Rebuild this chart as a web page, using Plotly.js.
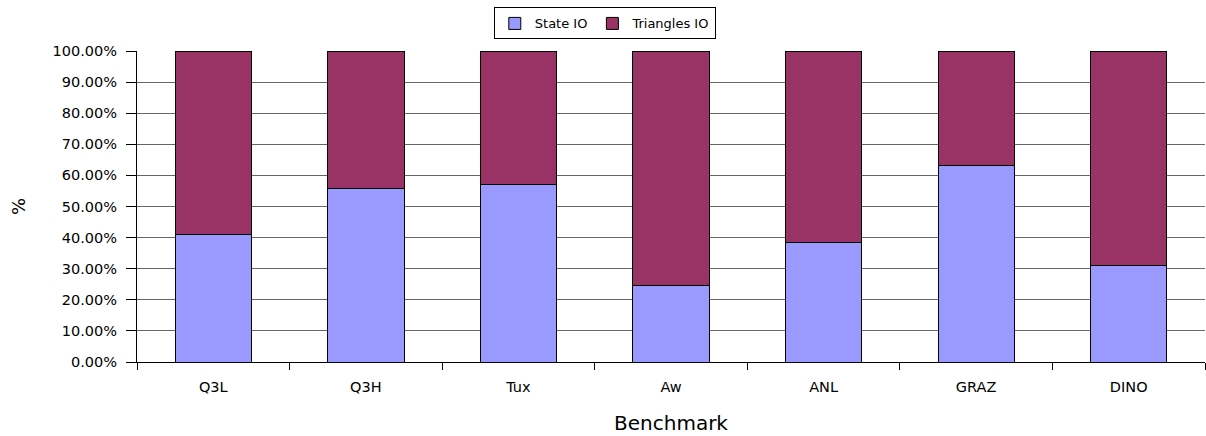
<!DOCTYPE html>
<html>
<head>
<meta charset="utf-8">
<script src="https://cdn.plot.ly/plotly-3.0.1.min.js"></script>
<style>html,body{margin:0;padding:0;background:#fff;}#chart{width:1206px;height:436px;}</style>
</head>
<body>
<div id="chart"></div>
<script>
const categories = ["Q3L", "Q3H", "Tux", "Aw", "ANL", "GRAZ", "DINO"];
const stateIO = [0.410, 0.559, 0.571, 0.245, 0.385, 0.633, 0.310];
const trianglesIO = stateIO.map(v => 1 - v);
const yTickVals = [0, 0.1, 0.2, 0.3, 0.4, 0.5, 0.6, 0.7, 0.8, 0.9, 1.0];
const yTickText = ["0.00%", "10.00%", "20.00%", "30.00%", "40.00%", "50.00%", "60.00%", "70.00%", "80.00%", "90.00%", "100.00%"];

const font = "DejaVu Sans, Verdana, sans-serif";
const traces = [
  {type: "bar", name: "State IO", x: categories, y: stateIO,
   marker: {color: "#9999ff", line: {color: "#000", width: 1}}, width: 0.5},
  {type: "bar", name: "Triangles IO", x: categories, y: trianglesIO,
   marker: {color: "#993366", line: {color: "#000", width: 1}}, width: 0.5}
];
const layout = {
  width: 1206, height: 436,
  margin: {l: 137, r: 1, t: 51, b: 74},
  barmode: "stack",
  paper_bgcolor: "#fff", plot_bgcolor: "#fff",
  font: {family: font, size: 14, color: "#000"},
  showlegend: true,
  legend: {orientation: "h", x: 0.438, xanchor: "center", y: 1.14, yanchor: "top",
           bordercolor: "#000", borderwidth: 1, font: {size: 13, family: font},
           traceorder: "normal"},
  xaxis: {type: "category", tickson: "boundaries", ticks: "outside", ticklen: 7,
          tickcolor: "#000", showline: true, linecolor: "#000", linewidth: 1,
          showgrid: false, zeroline: false, ticklabelstandoff: 12,
          title: {text: "Benchmark", font: {size: 20, family: font}, standoff: 21},
          tickfont: {size: 14.5, family: font}},
  yaxis: {range: [0, 1], tickvals: yTickVals, ticktext: yTickText,
          ticks: "outside", ticklen: 10, tickcolor: "#000",
          showline: true, linecolor: "#000", linewidth: 1,
          showgrid: true, gridcolor: "#666", gridwidth: 1, zeroline: false,
          title: {text: "%", font: {size: 18, family: font}, standoff: 22},
          tickfont: {size: 14.5, family: font}, ticklabelstandoff: 6}
};
Plotly.newPlot("chart", traces, layout, {displayModeBar: false, staticPlot: true});
</script>
</body>
</html>
